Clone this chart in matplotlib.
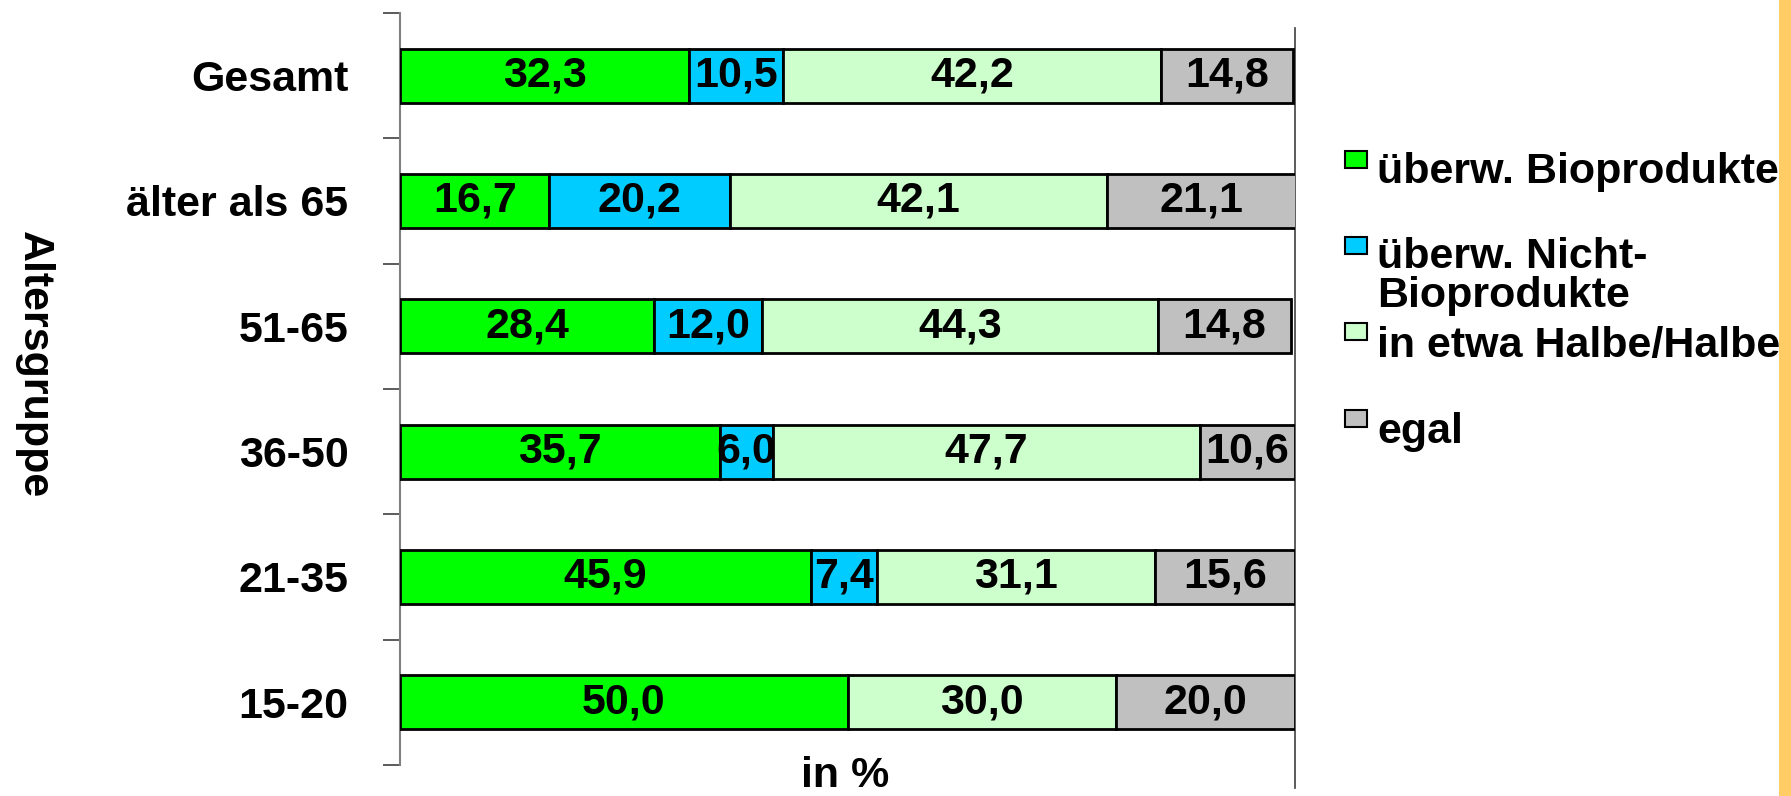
import matplotlib
matplotlib.use("Agg")
import matplotlib.pyplot as plt
from matplotlib.patches import Rectangle
import numpy as np

plt.rcParams['font.family'] = ['Liberation Sans', 'DejaVu Sans']
plt.rcParams['font.weight'] = 'bold'

categories = ["15-20", "21-35", "36-50", "51-65", "älter als 65", "Gesamt"]
series_names = ["überw. Bioprodukte", "überw. Nicht-\nBioprodukte",
                "in etwa Halbe/Halbe", "egal"]
bio = [50.0, 45.9, 35.7, 28.4, 16.7, 32.3]
nicht_bio = [0.0, 7.4, 6.0, 12.0, 20.2, 10.5]
halbe = [30.0, 31.1, 47.7, 44.3, 42.1, 42.2]
egal = [20.0, 15.6, 10.6, 14.8, 21.1, 14.8]
colors = ["#00FF00", "#00CCFF", "#CCFFCC", "#C0C0C0"]

W, H = 1791, 796
fig = plt.figure(figsize=(W / 100, H / 100), dpi=100)
ax = fig.add_axes([400 / W, 1 - 765 / H, 895 / W, 752 / H])

y = np.arange(len(categories))
left = np.zeros(len(categories))
FS = 31
for vals, col in zip([bio, nicht_bio, halbe, egal], colors):
    vals = np.array(vals)
    mask = vals > 0
    ax.barh(y[mask], vals[mask], left=left[mask], height=0.43, color=col,
            edgecolor="black", linewidth=2.0, zorder=3)
    for yi, v, l in zip(y, vals, left):
        if v > 0:
            ax.text(l + v / 2, yi, f"{v:.1f}".replace(".", ","), ha="center",
                    va="center", fontsize=FS, fontweight="bold", zorder=4)
    left = left + vals

ax.set_xlim(0, 100)
ax.set_ylim(-0.5, len(categories) - 0.5)
ax.set_yticks(y)
ax.set_yticklabels(categories, fontsize=FS, fontweight="bold")
ax.tick_params(axis="y", which="major", length=0, pad=37)
ax.set_yticks(np.arange(-0.5, len(categories)), minor=True)
ax.tick_params(axis="y", which="minor", length=12, width=1.2, color="#404040")
ax.set_xticks([])
for s in ["top", "bottom", "right"]:
    ax.spines[s].set_visible(False)
ax.spines["left"].set_color("#808080")
ax.spines["left"].set_linewidth(1.5)

# right reference line at 100 %
ax.plot([100, 100], [0.98, -0.031], transform=ax.get_xaxis_transform(),
        color="#404040", linewidth=1.2, clip_on=False)

fig.text(845 / W, 1 - 776 / H, "in %", ha="center", va="center",
         fontsize=FS, fontweight="bold")
fig.text(34 / W, 1 - 365 / H, "Altersgruppe", rotation=270, ha="center",
         va="center", fontsize=FS, fontweight="bold")

# legend
sq_tops = [151, 237, 323, 410]
baselines = [[183], [268, 307], [357], [443]]
for name, col, top, bls in zip(series_names, colors, sq_tops, baselines):
    fig.patches.append(Rectangle((1345 / W, 1 - (top + 17) / H), 22 / W, 17 / H,
                                 transform=fig.transFigure, facecolor=col,
                                 edgecolor="black", linewidth=1.5))
    for line, bl in zip(name.split("\n"), bls):
        fig.text(1377 / W, 1 - bl / H, line, ha="left", va="baseline",
                 fontsize=31, fontweight="bold")

# orange strip on the right edge
fig.patches.append(Rectangle((1779 / W, 0), 12 / W, 1, transform=fig.transFigure,
                             facecolor="#FFCC66", edgecolor="none"))

fig.savefig("out.png", dpi=100)
